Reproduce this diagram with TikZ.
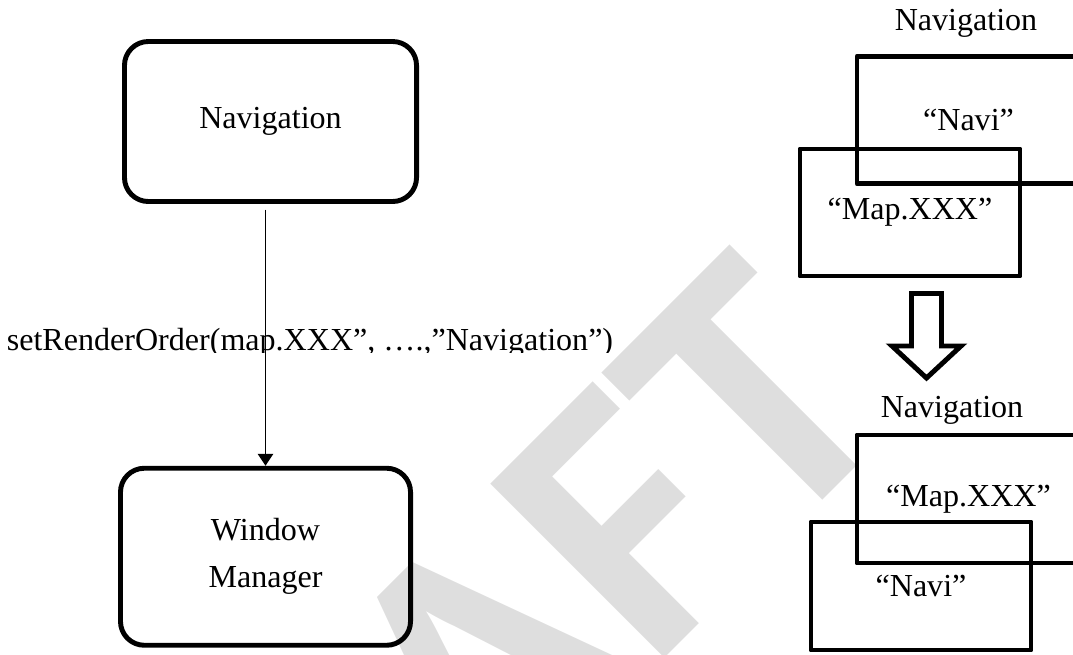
\documentclass[tikz,border=0pt]{standalone}
\usepackage{fontspec}
\setmainfont{Liberation Serif}
\newfontfamily\wmfont{Carlito}
\usetikzlibrary{arrows.meta}
\definecolor{wmgray}{RGB}{222,222,222}

\begin{document}
\begin{tikzpicture}[x=0.025cm, y=-0.025cm, font=\fontsize{22.8}{33.4}\selectfont, line join=round,
	>={Triangle[length=8.5pt,width=11pt]},
	roundbox/.style={draw, line width=3.5pt, rounded corners=17pt, align=center},
	layerbox/.style={draw, line width=3.5pt, minimum height=3.175cm}]
	%			\draw[gray,step=100] (0,0) grid (1073,654);
	\useasboundingbox (0,0) rectangle (1073,654);
	\begin{scope}
		\clip (0,0) rectangle (1073,654);
		\node[rotate=45, anchor=base east, text=wmgray, inner sep=0pt, font={\wmfont\bfseries\fontsize{270}{270}\selectfont}] (wm) at (907,416) {DRAFT};
		
		\node[roundbox, minimum width=7.3cm, minimum height=4cm] (nav) at (270.5,121.5) {Navigation};
		\node[roundbox, minimum width=7.25cm, minimum height=4.425cm] (win) at (265.5,556.75) {Window\\Manager};
		
		\begin{scope}
			\clip (0,300) rectangle (700,352);
			\node[anchor=base] (call) at (310,350) {setRenderOrder(map.XXX”, ….,”Navigation”)};
		\end{scope}
		\draw[->, line width=1.1pt, shorten <=4pt] (nav.south -| win.north) -- (win.north);
		
		\node[anchor=base] (top) at (966,30) {Navigation};
		\node[layerbox, minimum width=5.575cm] (navi1) at (968.5,120) {“Navi”};
		\node[layerbox, minimum width=5.5cm] (map1) at (910,212.5) {“Map.XXX”};
		
		\draw[line width=3.5pt, line join=miter]
		(911.5,293.5) -- (941.5,293.5) -- (941.5,346) -- (961,346) -- (926.5,378)
		-- (892,346) -- (911.5,346) -- cycle;
		
		\node[anchor=base] (bot) at (952,417) {Navigation};
		\node[layerbox, minimum width=5.575cm, minimum height=3.2cm] (map2) at (968.5,499) {“Map.XXX”};
		\node[layerbox, minimum width=5.5cm, minimum height=3.2cm] (navi2) at (921,586) {“Navi”};
	\end{scope}
\end{tikzpicture}
\end{document}
